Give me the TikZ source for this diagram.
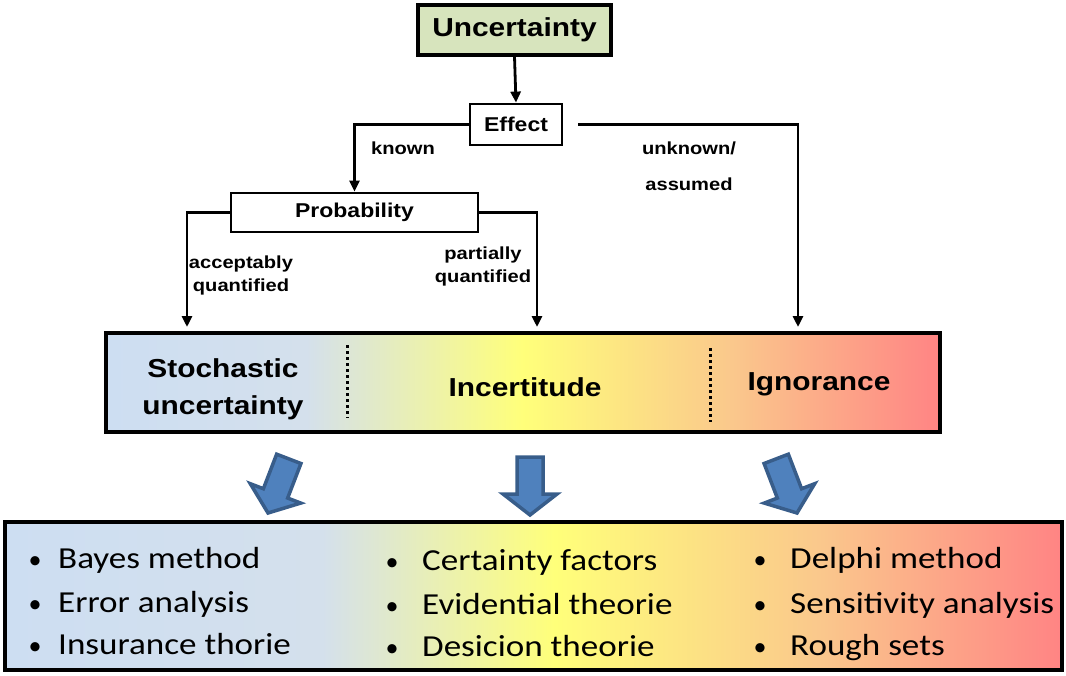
\documentclass[tikz,border=0pt]{standalone}
\usepackage{graphicx}
\usepackage{fontspec}
\setmainfont{Liberation Sans}
\newfontfamily\calfont{Carlito}
\usetikzlibrary{arrows.meta}
\definecolor{cgreen}{RGB}{215,228,189}
\definecolor{cblue}{RGB}{205,222,242}
\definecolor{cblueb}{RGB}{212,224,236}
\definecolor{cyel}{RGB}{255,255,122}
\definecolor{corange}{RGB}{250,200,140}
\definecolor{cred}{RGB}{255,132,132}
\definecolor{ablue}{RGB}{79,129,189}
\definecolor{adark}{RGB}{56,93,138}
\pgfdeclarehorizontalshading{midshade}{100bp}{color(0bp)=(cblue); color(25bp)=(cblue); color(37bp)=(cblueb); color(50bp)=(cyel); color(62.5bp)=(corange); color(75bp)=(cred); color(100bp)=(cred)}
\pgfdeclarehorizontalshading{botshade}{100bp}{color(0bp)=(cblue); color(25bp)=(cblue); color(40bp)=(cblueb); color(51bp)=(cyel); color(63.5bp)=(corange); color(75bp)=(cred); color(100bp)=(cred)}
\newcommand\hs[1]{\scalebox{1.15}[1]{#1}}
\begin{document}
\begin{tikzpicture}[x=1pt,y=-1pt,
  box/.style={draw, line width=2.8pt, inner sep=0pt, fill=white},
  conn/.style={line width=2.8pt, -{Triangle[length=11pt,width=10pt]}},
  lbl/.style={font=\bfseries\fontsize{17.5}{23}\selectfont, inner sep=0pt, align=center},
  big/.style={font=\bfseries\fontsize{26}{37}\selectfont, inner sep=0pt, align=center},
  dotline/.style={line width=3pt, dash pattern=on 3pt off 3pt},
  item/.style={font=\calfont\fontsize{30.5}{36}\selectfont, inner sep=0pt, anchor=base west},
  bul/.style={font=\calfont\fontsize{26}{36}\selectfont, inner sep=0pt, anchor=base},
  barrow/.pic={\draw[fill=ablue, draw=adark, line width=3.5pt, line join=miter] (0,0) -- (-27,-21) -- (-13,-21) -- (-13,-58) -- (13,-58) -- (13,-21) -- (27,-21) -- cycle;}
]
\useasboundingbox (0,0) rectangle (1066,675);

% top boxes
\node[box, fill=cgreen, line width=3.2pt, minimum width=193pt, minimum height=50pt,
  font=\bfseries\fontsize{26}{30}\selectfont] (unc) at (514.5,30) {\raisebox{-2pt}{\hs{Uncertainty}}};
\node[box, minimum width=92pt, minimum height=41pt,
  font=\bfseries\fontsize{20}{24}\selectfont] (eff) at (516,124.5) {\raisebox{-1.5pt}{\hs{Effect}}};
\node[box, minimum width=247pt, minimum height=39pt,
  font=\bfseries\fontsize{20}{24}\selectfont] (prob) at (354.5,212.5) {\raisebox{-1pt}{\hs{Probability}}};

% middle gradient box
\node[draw, line width=3.2pt, shading=midshade, minimum width=834pt, minimum height=99pt, inner sep=0pt] (mid) at (523,382.5) {};
\draw[dotline] (347,345) -- (347,418);
\draw[dotline] (710,348) -- (710,422);
\node[big] (sto) at (223,389) {\hs{Stochastic}\\\hs{uncertainty}};
\node[big] (inc) at (525,387) {\hs{Incertitude}};
\node[big] (ign) at (819,384) {\hs{Ignorance}};

% targets
\coordinate (t1) at (187,327);
\coordinate (t2) at (537,327);
\coordinate (t3) at (798,327);

% connectors
\draw[conn] (unc.south) -- (eff.north);
\draw[conn] (eff.west) -| (prob.north);
\draw[conn] ([xshift=15pt]eff.east) -| (t3);
\draw[conn] (prob.west) -| (t1);
\draw[conn] (prob.east) -| (t2);

% labels
\node[lbl] (lknown) at (403,148) {\hs{known}};
\node[lbl] (lunk) at (689,166) {\hs{unknown/}\\[13pt]\hs{assumed}};
\node[lbl] (lacc) at (241,275) {\hs{acceptably}\\\hs{quantified}};
\node[lbl] (lpar) at (483,266) {\hs{partially}\\\hs{quantified}};

% block arrows
\pic[rotate=-21] at (268,513) {barrow};
\pic at (530,515) {barrow};
\pic[rotate=21] at (797,513) {barrow};

% bottom box
\node[draw, line width=4pt, shading=botshade, minimum width=1057pt, minimum height=148pt, inner sep=0pt] (bot) at (533.5,596) {};

\foreach \bx/\tx/\by/\t [count=\i] in {
  35/58/568/Bayes method, 35/58/612/Error analysis, 35/58/654/Insurance thorie,
  392/422/570/Certainty factors, 392/422/614/Evidential theorie, 392/422/656/Desicion theorie,
  760/790/568/Delphi method, 760/790/613/Sensitivity analysis, 760/790/655/Rough sets}{
  \node[bul] (b\i) at (\bx,\by) {•};
  \node[item] (i\i) at (\tx,\by) {\hs{\t}};
}
\end{tikzpicture}
\end{document}
